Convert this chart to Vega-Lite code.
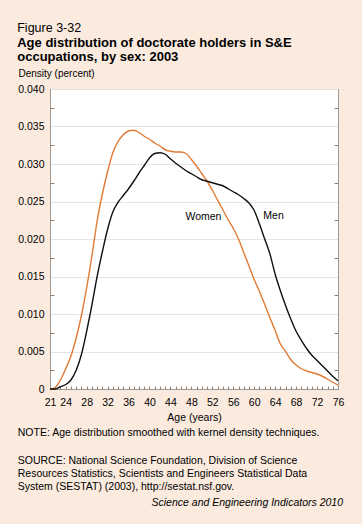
{
  "$schema": "https://vega.github.io/schema/vega-lite/v6.json",
  "background": "#FBEBDF",
  "padding": {"left": 17, "top": 22, "right": 24, "bottom": 16},
  "config": {"font": "Liberation Sans", "view": {"stroke": null}},
  "title": {
    "text": "Figure 3-32",
    "subtitle": ["Age distribution of doctorate holders in S&E", "occupations, by sex: 2003"],
    "anchor": "start", "frame": "bounds", "orient": "top",
    "fontSize": 12.5, "fontWeight": "normal", "color": "black",
    "subtitleFontSize": 13, "subtitleFontWeight": "bold", "subtitleColor": "black",
    "subtitleLineHeight": 14, "subtitlePadding": 2, "offset": 4
  },
  "datasets": {
    "curves": [
      {"sex": "Women", "age": 21, "density": 0.0},
      {"sex": "Women", "age": 22, "density": 0.0002},
      {"sex": "Women", "age": 23, "density": 0.0012},
      {"sex": "Women", "age": 24, "density": 0.0027},
      {"sex": "Women", "age": 25, "density": 0.0044},
      {"sex": "Women", "age": 26, "density": 0.0068},
      {"sex": "Women", "age": 27, "density": 0.0098},
      {"sex": "Women", "age": 28, "density": 0.0135},
      {"sex": "Women", "age": 29, "density": 0.0177},
      {"sex": "Women", "age": 30, "density": 0.0224},
      {"sex": "Women", "age": 31, "density": 0.026},
      {"sex": "Women", "age": 32, "density": 0.029},
      {"sex": "Women", "age": 33, "density": 0.0315},
      {"sex": "Women", "age": 34, "density": 0.033},
      {"sex": "Women", "age": 35, "density": 0.0339},
      {"sex": "Women", "age": 36, "density": 0.0344},
      {"sex": "Women", "age": 37, "density": 0.0345},
      {"sex": "Women", "age": 38, "density": 0.0342},
      {"sex": "Women", "age": 39, "density": 0.0337},
      {"sex": "Women", "age": 40, "density": 0.0333},
      {"sex": "Women", "age": 41, "density": 0.0328},
      {"sex": "Women", "age": 42, "density": 0.0324},
      {"sex": "Women", "age": 43, "density": 0.0319},
      {"sex": "Women", "age": 44, "density": 0.0317},
      {"sex": "Women", "age": 45, "density": 0.0316},
      {"sex": "Women", "age": 46, "density": 0.0316},
      {"sex": "Women", "age": 47, "density": 0.0314},
      {"sex": "Women", "age": 48, "density": 0.0306},
      {"sex": "Women", "age": 49, "density": 0.0297},
      {"sex": "Women", "age": 50, "density": 0.0287},
      {"sex": "Women", "age": 51, "density": 0.0277},
      {"sex": "Women", "age": 52, "density": 0.0265},
      {"sex": "Women", "age": 53, "density": 0.0252},
      {"sex": "Women", "age": 54, "density": 0.0239},
      {"sex": "Women", "age": 55, "density": 0.0226},
      {"sex": "Women", "age": 56, "density": 0.0214},
      {"sex": "Women", "age": 57, "density": 0.02},
      {"sex": "Women", "age": 58, "density": 0.0182},
      {"sex": "Women", "age": 59, "density": 0.0164},
      {"sex": "Women", "age": 60, "density": 0.0146},
      {"sex": "Women", "age": 61, "density": 0.013},
      {"sex": "Women", "age": 62, "density": 0.0113},
      {"sex": "Women", "age": 63, "density": 0.0095},
      {"sex": "Women", "age": 64, "density": 0.0078},
      {"sex": "Women", "age": 65, "density": 0.006},
      {"sex": "Women", "age": 66, "density": 0.005},
      {"sex": "Women", "age": 67, "density": 0.0039},
      {"sex": "Women", "age": 68, "density": 0.0032},
      {"sex": "Women", "age": 69, "density": 0.0027},
      {"sex": "Women", "age": 70, "density": 0.0024},
      {"sex": "Women", "age": 71, "density": 0.0022},
      {"sex": "Women", "age": 72, "density": 0.002},
      {"sex": "Women", "age": 73, "density": 0.0017},
      {"sex": "Women", "age": 74, "density": 0.0013},
      {"sex": "Women", "age": 75, "density": 0.0009},
      {"sex": "Women", "age": 76, "density": 0.0005},
      {"sex": "Men", "age": 21, "density": 0.0},
      {"sex": "Men", "age": 22, "density": 0.0},
      {"sex": "Men", "age": 23, "density": 0.0003},
      {"sex": "Men", "age": 24, "density": 0.0006},
      {"sex": "Men", "age": 25, "density": 0.0012},
      {"sex": "Men", "age": 26, "density": 0.0025},
      {"sex": "Men", "age": 27, "density": 0.0046},
      {"sex": "Men", "age": 28, "density": 0.0077},
      {"sex": "Men", "age": 29, "density": 0.0112},
      {"sex": "Men", "age": 30, "density": 0.015},
      {"sex": "Men", "age": 31, "density": 0.0183},
      {"sex": "Men", "age": 32, "density": 0.0213},
      {"sex": "Men", "age": 33, "density": 0.0236},
      {"sex": "Men", "age": 34, "density": 0.0249},
      {"sex": "Men", "age": 35, "density": 0.0258},
      {"sex": "Men", "age": 36, "density": 0.0267},
      {"sex": "Men", "age": 37, "density": 0.0277},
      {"sex": "Men", "age": 38, "density": 0.0288},
      {"sex": "Men", "age": 39, "density": 0.0298},
      {"sex": "Men", "age": 40, "density": 0.0308},
      {"sex": "Men", "age": 41, "density": 0.0314},
      {"sex": "Men", "age": 42, "density": 0.0315},
      {"sex": "Men", "age": 43, "density": 0.0313},
      {"sex": "Men", "age": 44, "density": 0.0307},
      {"sex": "Men", "age": 45, "density": 0.0301},
      {"sex": "Men", "age": 46, "density": 0.0296},
      {"sex": "Men", "age": 47, "density": 0.0291},
      {"sex": "Men", "age": 48, "density": 0.0287},
      {"sex": "Men", "age": 49, "density": 0.0283},
      {"sex": "Men", "age": 50, "density": 0.0279},
      {"sex": "Men", "age": 51, "density": 0.0277},
      {"sex": "Men", "age": 52, "density": 0.0275},
      {"sex": "Men", "age": 53, "density": 0.0273},
      {"sex": "Men", "age": 54, "density": 0.0271},
      {"sex": "Men", "age": 55, "density": 0.0267},
      {"sex": "Men", "age": 56, "density": 0.0263},
      {"sex": "Men", "age": 57, "density": 0.0259},
      {"sex": "Men", "age": 58, "density": 0.0254},
      {"sex": "Men", "age": 59, "density": 0.0248},
      {"sex": "Men", "age": 60, "density": 0.0238},
      {"sex": "Men", "age": 61, "density": 0.022},
      {"sex": "Men", "age": 62, "density": 0.02},
      {"sex": "Men", "age": 63, "density": 0.018},
      {"sex": "Men", "age": 64, "density": 0.0153},
      {"sex": "Men", "age": 65, "density": 0.0131},
      {"sex": "Men", "age": 66, "density": 0.0111},
      {"sex": "Men", "age": 67, "density": 0.0093},
      {"sex": "Men", "age": 68, "density": 0.0077},
      {"sex": "Men", "age": 69, "density": 0.0065},
      {"sex": "Men", "age": 70, "density": 0.0054},
      {"sex": "Men", "age": 71, "density": 0.0045},
      {"sex": "Men", "age": 72, "density": 0.0038},
      {"sex": "Men", "age": 73, "density": 0.0031},
      {"sex": "Men", "age": 74, "density": 0.0024},
      {"sex": "Men", "age": 75, "density": 0.0017},
      {"sex": "Men", "age": 76, "density": 0.0011}
    ],
    "labels": [
      {"label": "Women", "age": 50.3, "density": 0.023},
      {"label": "Men", "age": 63.7, "density": 0.0231}
    ]
  },
  "spacing": 5,
  "vconcat": [
    {
      "width": 288,
      "height": 300,
      "view": {"fill": "white", "stroke": "#5a4a44", "strokeWidth": 1},
      "title": {
        "text": "NOTE: Age distribution smoothed with kernel density techniques.",
        "subtitle": ["SOURCE: National Science Foundation, Division of Science", "Resources Statistics, Scientists and Engineers Statistical Data", "System (SESTAT) (2003), http://sestat.nsf.gov."],
        "orient": "bottom", "anchor": "start", "frame": "bounds",
        "fontSize": 10.5, "fontWeight": "normal", "color": "black",
        "subtitleFontSize": 10.5, "subtitleColor": "black", "subtitleLineHeight": 13,
        "subtitlePadding": 17, "offset": 5
      },
      "layer": [
        {
          "data": {"name": "curves"},
          "mark": {"type": "line", "interpolate": "monotone", "strokeWidth": 1.4},
          "encoding": {
            "x": {
              "field": "age", "type": "quantitative",
              "scale": {"domain": [21, 76], "nice": false, "zero": false},
              "axis": {
                "title": "Age (years)", "titleFontSize": 10.5, "titleFontWeight": "normal", "titleColor": "black", "titlePadding": 5,
                "values": [21,24,28,32,36,40,44,48,52,56,60,64,68,72,76],
                "format": "d",
                "labelFontSize": 10.5, "labelColor": "black", "labelFlush": false, "labelOverlap": false, "labelPadding": 8,
                "ticks": false, "domainColor": "#a09890", "grid": false
              }
            },
            "y": {
              "field": "density", "type": "quantitative",
              "scale": {"domain": [0, 0.04], "nice": false},
              "axis": {
                "title": "Density (percent)", "titleAngle": 0, "titleAlign": "left", "titleBaseline": "alphabetic",
                "titleX": -32, "titleY": -13, "titleFontSize": 10, "titleFontWeight": "normal", "titleColor": "black",
                "values": [0,0.005,0.01,0.015,0.02,0.025,0.03,0.035,0.04],
                "labelExpr": "datum.value == 0 ? '0' : format(datum.value, '.3f')",
                "labelFontSize": 10.5, "labelColor": "black", "labelFlush": false, "labelOverlap": false, "labelPadding": 6,
                "ticks": false,
                "grid": true, "gridColor": "#e4e4e4",
                "domainColor": "#a09890"
              }
            },
            "color": {
              "field": "sex", "type": "nominal",
              "scale": {"domain": ["Women", "Men"], "range": ["#E07A35", "#111111"]},
              "legend": null
            }
          }
        },
        {
          "data": {"name": "labels"},
          "mark": {"type": "text", "fontSize": 10.5, "color": "black", "align": "center", "baseline": "middle"},
          "encoding": {
            "x": {
              "field": "age", "type": "quantitative",
              "axis": {
                "orient": "top", "offset": -300, "title": null, "labels": false, "domain": false, "grid": false,
                "values": [21,22,23,24,25,26,27,28,29,30,31,32,33,34,35,36,37,38,39,40,41,42,43,44,45,46,47,48,49,50,51,52,53,54,55,56,57,58,59,60,61,62,63,64,65,66,67,68,69,70,71,72,73,74,75,76],
                "ticks": true, "tickSize": 3, "tickWidth": 1, "tickColor": "#8a8078"
              }
            },
            "y": {
              "field": "density", "type": "quantitative",
              "axis": {
                "orient": "right", "offset": -288, "title": null, "labels": false, "domain": false, "grid": false,
                "values": [0.0025,0.0075,0.0125,0.0175,0.0225,0.0275,0.0325,0.0375],
                "ticks": true, "tickSize": 4, "tickWidth": 1, "tickColor": "#8a8078"
              }
            },
            "text": {"field": "label"}
          }
        },
        {
          "data": {"name": "labels"},
          "mark": {"type": "text", "fontSize": 10.5, "opacity": 0},
          "encoding": {
            "x": {"field": "age", "type": "quantitative", "axis": null},
            "y": {
              "field": "density", "type": "quantitative",
              "axis": {
                "orient": "left", "offset": -288, "title": null, "labels": false, "grid": false,
                "values": [0.0025,0.0075,0.0125,0.0175,0.0225,0.0275,0.0325,0.0375],
                "ticks": true, "tickSize": 4, "tickWidth": 1, "tickColor": "#8a8078", "domainColor": "#9a9a9a"
              }
            },
            "text": {"value": ""}
          }
        }
      ],
      "resolve": {"axis": {"x": "independent", "y": "independent"}}
    },
    {
      "width": 288,
      "height": 1,
      "view": {"stroke": null, "fill": null},
      "data": {"values": [{}]},
      "mark": {"type": "text"},
      "encoding": {"text": {"value": ""}},
      "title": {
        "text": "Science and Engineering Indicators 2010",
        "anchor": "end", "frame": "group", "orient": "top",
        "fontSize": 10.5, "fontWeight": "normal", "fontStyle": "italic", "color": "black",
        "dx": 5, "offset": 0
      }
    }
  ]
}
